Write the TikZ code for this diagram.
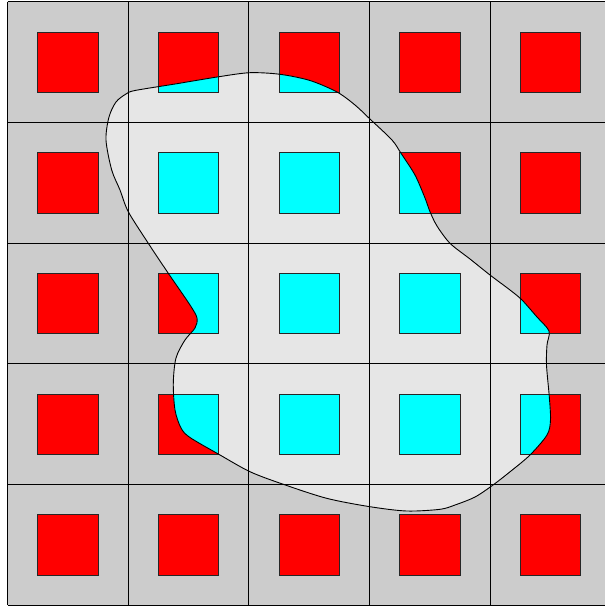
\documentclass[tikz,border=0pt]{standalone}
\usetikzlibrary{calc}
\definecolor{cellgray}{HTML}{CCCCCC}
\definecolor{blobgray}{HTML}{E6E6E6}
\definecolor{sqred}{HTML}{FF0000}
\definecolor{sqcyan}{HTML}{00FFFF}
\tikzset{
  gridline/.style={draw=black, line width=1pt},
  redsq/.style={fill=sqred, draw=black!85, line width=0.9pt},
  cyansq/.style={fill=sqcyan, draw=black!85, line width=0.9pt},
  blobline/.style={draw=black, line width=0.9pt},
}
\begin{document}
\begin{tikzpicture}[x=1pt,y=-1pt]
\useasboundingbox (0,0) rectangle (605,606);
\clip (0,0) rectangle (605,606);
\def\cw{120.7}
\def\xo{7.5}
\def\yo{1.7}
% cell background
\fill[cellgray] (\xo,\yo) rectangle (\xo+5*\cw,\yo+5*\cw);
% red squares
\foreach \i in {0,...,4}{
  \foreach \j in {0,...,4}{
    \path[redsq] (\xo+\i*\cw+30.3,\yo+\j*\cw+30.3) rectangle ++(60.3,60.3);
  }
}
% blob
\path[save path=\blobsave] plot[smooth cycle, tension=0.5] coordinates {
 (106,140) (109,117) (116,102) (126,94) (135,90.5) (175,84) (219,76.7)
 (250,72.7) (280,74.3) (310,80.5) (337,92) (355,105) (371,120) (392,140)
 (401,153.3) (415,175) (425,198) (430,211.7) (437,226) (450,243.3) (470,259)
 (490,275) (510,290) (522,300) (537,317) (549,331) (547,345) (546.5,365)
 (549.3,396.7) (550.5,420) (547,435) (530,455) (511,471) (493,485) (475,497)
 (455,505) (440,509.3) (406.7,511) (370,506.7) (326.7,498.3) (283.3,484.3)
 (250,471.7) (218.3,454) (190,437.5) (181,428) (175,410) (173.3,383)
 (176,358) (185,340) (195,328) (197,318) (190,305) (168.3,273.3)
 (148.3,243.3) (128.3,211.7) (120,190) (111.7,170)
};
\fill[blobgray, use path=\blobsave];
\begin{scope}
  \clip[use path=\blobsave];
  \foreach \i in {0,...,4}{
    \foreach \j in {0,...,4}{
      \path[cyansq] (\xo+\i*\cw+30.3,\yo+\j*\cw+30.3) rectangle ++(60.3,60.3);
    }
  }
\end{scope}
% grid lines
\foreach \k in {0,...,5}{
  \draw[gridline] (\xo+\k*\cw,\yo) -- (\xo+\k*\cw,\yo+5*\cw);
  \draw[gridline] (\xo,\yo+\k*\cw) -- (\xo+5*\cw,\yo+\k*\cw);
}
\draw[blobline, use path=\blobsave];
\end{tikzpicture}
\end{document}
